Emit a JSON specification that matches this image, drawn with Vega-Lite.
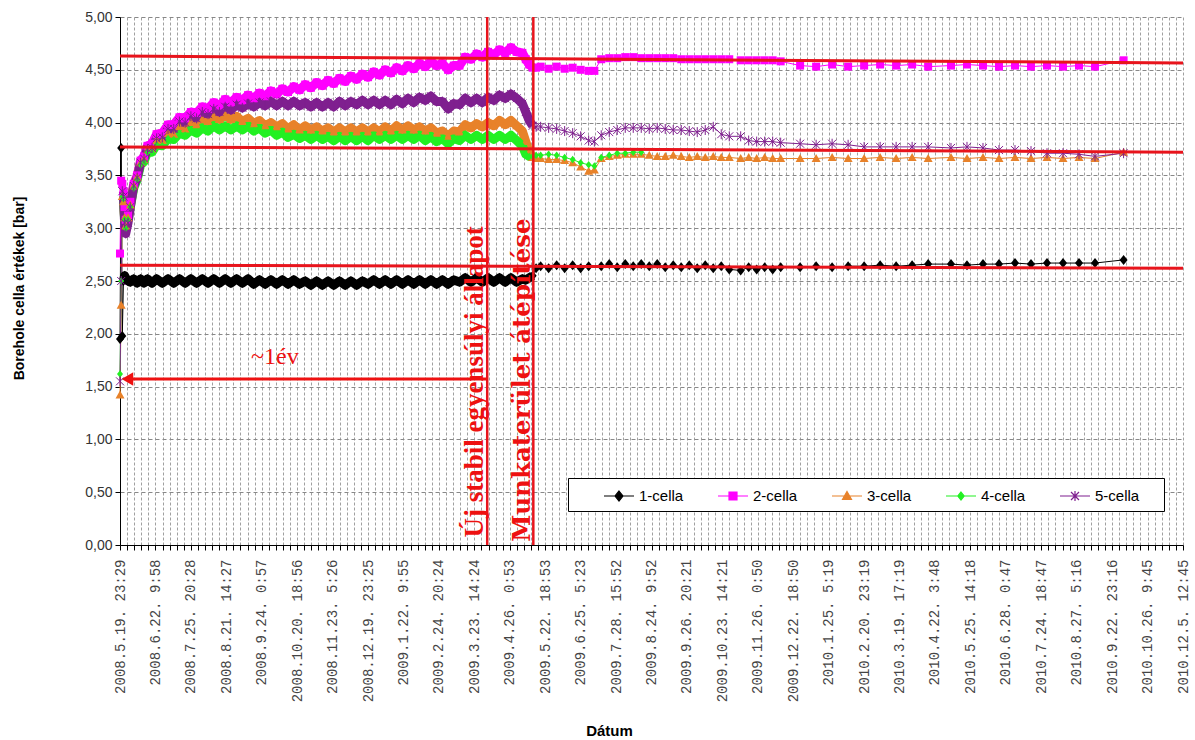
{
  "$schema": "https://vega.github.io/schema/vega-lite/v6.json",
  "width": 1063,
  "height": 528,
  "autosize": "none",
  "padding": {"left": 120, "top": 17, "right": 12, "bottom": 195},
  "background": "#ffffff",
  "config": {
    "view": {"stroke": null},
    "font": "Liberation Sans",
    "legend": {
      "symbolSize": 400, "symbolStrokeWidth": 1.2, "symbolOpacity": 1,
      "symbolOffset": 33, "labelOffset": 9, "columnPadding": 5, "padding": 7,
      "strokeColor": "#000", "fillColor": "#ffffff",
      "labelFont": "Liberation Sans", "labelFontSize": 15, "labelColor": "#000"
    }
  },
  "datasets": {
    "cells": [
      {"t":"2008-05-19T23:29:00Z","1-cella":1.95,"2-cella":2.76,"3-cella":1.42,"4-cella":1.62,"5-cella":1.55},
      {"t":"2008-05-21","1-cella":3.76,"2-cella":3.45,"3-cella":2.27,"4-cella":2.50,"5-cella":2.50},
      {"t":"2008-05-22","1-cella":1.98,"2-cella":3.42,"3-cella":3.30,"4-cella":3.30,"5-cella":3.35},
      {"t":"2008-05-23","1-cella":2.50,"2-cella":3.35,"3-cella":3.25,"4-cella":3.28,"5-cella":3.30},
      {"t":"2008-05-24","1-cella":2.55,"2-cella":3.20,"3-cella":3.10,"4-cella":3.08,"5-cella":3.05},
      {"t":"2008-05-25","1-cella":2.53,"2-cella":3.08,"3-cella":3.02,"4-cella":3.00,"5-cella":2.95},
      {"t":"2008-05-27","1-cella":2.50,"2-cella":3.12,"3-cella":3.10,"4-cella":3.08,"5-cella":3.05},
      {"t":"2008-05-29","1-cella":2.49,"2-cella":3.25,"3-cella":3.22,"4-cella":3.20,"5-cella":3.20},
      {"t":"2008-06-01","1-cella":2.52,"2-cella":3.42,"3-cella":3.40,"4-cella":3.38,"5-cella":3.40},
      {"t":"2008-06-04","1-cella":2.48,"2-cella":3.50,"3-cella":3.48,"4-cella":3.46,"5-cella":3.48},
      {"t":"2008-06-07","1-cella":2.52,"2-cella":3.64,"3-cella":3.62,"4-cella":3.60,"5-cella":3.62},
      {"t":"2008-06-10","1-cella":2.48,"2-cella":3.68,"3-cella":3.65,"4-cella":3.63,"5-cella":3.66},
      {"t":"2008-06-13","1-cella":2.52,"2-cella":3.78,"3-cella":3.74,"4-cella":3.72,"5-cella":3.75},
      {"t":"2008-06-17","1-cella":2.48,"2-cella":3.80,"3-cella":3.75,"4-cella":3.72,"5-cella":3.76},
      {"t":"2008-06-21","1-cella":2.52,"2-cella":3.89,"3-cella":3.83,"4-cella":3.79,"5-cella":3.85},
      {"t":"2008-06-26","1-cella":2.48,"2-cella":3.90,"3-cella":3.83,"4-cella":3.78,"5-cella":3.86},
      {"t":"2008-07-01","1-cella":2.52,"2-cella":3.98,"3-cella":3.90,"4-cella":3.85,"5-cella":3.94},
      {"t":"2008-07-06","1-cella":2.48,"2-cella":3.98,"3-cella":3.89,"4-cella":3.84,"5-cella":3.94},
      {"t":"2008-07-11","1-cella":2.52,"2-cella":4.05,"3-cella":3.96,"4-cella":3.90,"5-cella":4.01},
      {"t":"2008-07-16","1-cella":2.48,"2-cella":4.04,"3-cella":3.94,"4-cella":3.88,"5-cella":4.00},
      {"t":"2008-07-21","1-cella":2.52,"2-cella":4.10,"3-cella":4.00,"4-cella":3.93,"5-cella":4.06},
      {"t":"2008-07-26","1-cella":2.48,"2-cella":4.09,"3-cella":3.98,"4-cella":3.90,"5-cella":4.04},
      {"t":"2008-07-31","1-cella":2.52,"2-cella":4.15,"3-cella":4.03,"4-cella":3.95,"5-cella":4.10},
      {"t":"2008-08-05","1-cella":2.48,"2-cella":4.13,"3-cella":4.01,"4-cella":3.92,"5-cella":4.08},
      {"t":"2008-08-10","1-cella":2.52,"2-cella":4.19,"3-cella":4.06,"4-cella":3.97,"5-cella":4.13},
      {"t":"2008-08-15","1-cella":2.48,"2-cella":4.16,"3-cella":4.03,"4-cella":3.93,"5-cella":4.10},
      {"t":"2008-08-20","1-cella":2.52,"2-cella":4.22,"3-cella":4.07,"4-cella":3.97,"5-cella":4.15},
      {"t":"2008-08-25","1-cella":2.48,"2-cella":4.19,"3-cella":4.03,"4-cella":3.93,"5-cella":4.12},
      {"t":"2008-08-30","1-cella":2.52,"2-cella":4.24,"3-cella":4.06,"4-cella":3.97,"5-cella":4.17},
      {"t":"2008-09-04","1-cella":2.48,"2-cella":4.21,"3-cella":4.01,"4-cella":3.93,"5-cella":4.14},
      {"t":"2008-09-09","1-cella":2.52,"2-cella":4.26,"3-cella":4.04,"4-cella":3.97,"5-cella":4.18},
      {"t":"2008-09-14","1-cella":2.47,"2-cella":4.23,"3-cella":3.99,"4-cella":3.92,"5-cella":4.15},
      {"t":"2008-09-19","1-cella":2.51,"2-cella":4.28,"3-cella":4.02,"4-cella":3.95,"5-cella":4.19},
      {"t":"2008-09-24","1-cella":2.47,"2-cella":4.25,"3-cella":3.97,"4-cella":3.90,"5-cella":4.16},
      {"t":"2008-09-29","1-cella":2.51,"2-cella":4.30,"3-cella":4.00,"4-cella":3.93,"5-cella":4.20},
      {"t":"2008-10-04","1-cella":2.47,"2-cella":4.27,"3-cella":3.96,"4-cella":3.88,"5-cella":4.16},
      {"t":"2008-10-09","1-cella":2.51,"2-cella":4.32,"3-cella":3.99,"4-cella":3.91,"5-cella":4.20},
      {"t":"2008-10-14","1-cella":2.47,"2-cella":4.29,"3-cella":3.94,"4-cella":3.86,"5-cella":4.16},
      {"t":"2008-10-19","1-cella":2.51,"2-cella":4.34,"3-cella":3.98,"4-cella":3.89,"5-cella":4.20},
      {"t":"2008-10-24","1-cella":2.47,"2-cella":4.31,"3-cella":3.93,"4-cella":3.85,"5-cella":4.16},
      {"t":"2008-10-29","1-cella":2.50,"2-cella":4.36,"3-cella":3.97,"4-cella":3.88,"5-cella":4.19},
      {"t":"2008-11-03","1-cella":2.46,"2-cella":4.33,"3-cella":3.93,"4-cella":3.84,"5-cella":4.15},
      {"t":"2008-11-08","1-cella":2.50,"2-cella":4.38,"3-cella":3.96,"4-cella":3.88,"5-cella":4.19},
      {"t":"2008-11-13","1-cella":2.46,"2-cella":4.35,"3-cella":3.92,"4-cella":3.84,"5-cella":4.15},
      {"t":"2008-11-18","1-cella":2.50,"2-cella":4.40,"3-cella":3.95,"4-cella":3.87,"5-cella":4.19},
      {"t":"2008-11-23","1-cella":2.46,"2-cella":4.37,"3-cella":3.91,"4-cella":3.83,"5-cella":4.15},
      {"t":"2008-11-28","1-cella":2.50,"2-cella":4.42,"3-cella":3.95,"4-cella":3.87,"5-cella":4.20},
      {"t":"2008-12-03","1-cella":2.46,"2-cella":4.39,"3-cella":3.91,"4-cella":3.83,"5-cella":4.16},
      {"t":"2008-12-08","1-cella":2.50,"2-cella":4.44,"3-cella":3.95,"4-cella":3.87,"5-cella":4.20},
      {"t":"2008-12-13","1-cella":2.46,"2-cella":4.41,"3-cella":3.91,"4-cella":3.83,"5-cella":4.17},
      {"t":"2008-12-18","1-cella":2.50,"2-cella":4.46,"3-cella":3.95,"4-cella":3.87,"5-cella":4.21},
      {"t":"2008-12-23","1-cella":2.47,"2-cella":4.43,"3-cella":3.91,"4-cella":3.83,"5-cella":4.17},
      {"t":"2008-12-28","1-cella":2.51,"2-cella":4.48,"3-cella":3.95,"4-cella":3.88,"5-cella":4.21},
      {"t":"2009-01-02","1-cella":2.47,"2-cella":4.45,"3-cella":3.91,"4-cella":3.84,"5-cella":4.17},
      {"t":"2009-01-07","1-cella":2.51,"2-cella":4.50,"3-cella":3.96,"4-cella":3.88,"5-cella":4.21},
      {"t":"2009-01-12","1-cella":2.47,"2-cella":4.47,"3-cella":3.92,"4-cella":3.84,"5-cella":4.17},
      {"t":"2009-01-17","1-cella":2.51,"2-cella":4.52,"3-cella":3.97,"4-cella":3.88,"5-cella":4.22},
      {"t":"2009-01-22","1-cella":2.47,"2-cella":4.49,"3-cella":3.93,"4-cella":3.84,"5-cella":4.18},
      {"t":"2009-01-27","1-cella":2.51,"2-cella":4.54,"3-cella":3.97,"4-cella":3.88,"5-cella":4.23},
      {"t":"2009-02-01","1-cella":2.47,"2-cella":4.51,"3-cella":3.93,"4-cella":3.84,"5-cella":4.19},
      {"t":"2009-02-06","1-cella":2.51,"2-cella":4.56,"3-cella":3.96,"4-cella":3.88,"5-cella":4.24},
      {"t":"2009-02-11","1-cella":2.47,"2-cella":4.53,"3-cella":3.92,"4-cella":3.83,"5-cella":4.21},
      {"t":"2009-02-16","1-cella":2.51,"2-cella":4.58,"3-cella":3.95,"4-cella":3.87,"5-cella":4.25},
      {"t":"2009-02-21","1-cella":2.47,"2-cella":4.54,"3-cella":3.90,"4-cella":3.82,"5-cella":4.20},
      {"t":"2009-02-26","1-cella":2.51,"2-cella":4.56,"3-cella":3.92,"4-cella":3.85,"5-cella":4.20},
      {"t":"2009-03-03","1-cella":2.47,"2-cella":4.50,"3-cella":3.87,"4-cella":3.80,"5-cella":4.13},
      {"t":"2009-03-08","1-cella":2.51,"2-cella":4.54,"3-cella":3.92,"4-cella":3.85,"5-cella":4.18},
      {"t":"2009-03-13","1-cella":2.49,"2-cella":4.54,"3-cella":3.91,"4-cella":3.83,"5-cella":4.17},
      {"t":"2009-03-18","1-cella":2.53,"2-cella":4.62,"3-cella":3.98,"4-cella":3.88,"5-cella":4.23},
      {"t":"2009-03-23","1-cella":2.49,"2-cella":4.60,"3-cella":3.95,"4-cella":3.84,"5-cella":4.19},
      {"t":"2009-03-28","1-cella":2.53,"2-cella":4.65,"3-cella":3.99,"4-cella":3.88,"5-cella":4.23},
      {"t":"2009-04-02","1-cella":2.49,"2-cella":4.62,"3-cella":3.96,"4-cella":3.84,"5-cella":4.19},
      {"t":"2009-04-07","1-cella":2.53,"2-cella":4.67,"3-cella":4.00,"4-cella":3.88,"5-cella":4.24},
      {"t":"2009-04-12","1-cella":2.49,"2-cella":4.64,"3-cella":3.97,"4-cella":3.84,"5-cella":4.21},
      {"t":"2009-04-17","1-cella":2.53,"2-cella":4.69,"3-cella":4.02,"4-cella":3.88,"5-cella":4.26},
      {"t":"2009-04-22","1-cella":2.49,"2-cella":4.66,"3-cella":3.98,"4-cella":3.84,"5-cella":4.23},
      {"t":"2009-04-27","1-cella":2.53,"2-cella":4.71,"3-cella":4.02,"4-cella":3.88,"5-cella":4.27},
      {"t":"2009-05-02","1-cella":2.49,"2-cella":4.67,"3-cella":3.97,"4-cella":3.83,"5-cella":4.23},
      {"t":"2009-05-07","1-cella":2.52,"2-cella":4.66,"3-cella":3.92,"4-cella":3.78,"5-cella":4.18},
      {"t":"2009-05-10","1-cella":2.51,"2-cella":4.60,"3-cella":3.82,"4-cella":3.70,"5-cella":4.10},
      {"t":"2009-05-13","1-cella":2.53,"2-cella":4.55,"3-cella":3.72,"4-cella":3.68,"5-cella":4.02},
      {"t":"2009-05-16","1-cella":2.55,"2-cella":4.52,"3-cella":3.67,"4-cella":3.68,"5-cella":3.97},
      {"t":"2009-05-19","1-cella":2.62,"2-cella":4.52,"3-cella":3.66,"4-cella":3.69,"5-cella":3.96},
      {"t":"2009-05-23","1-cella":2.64,"2-cella":4.53,"3-cella":3.66,"4-cella":3.69,"5-cella":3.96},
      {"t":"2009-05-30","1-cella":2.62,"2-cella":4.51,"3-cella":3.65,"4-cella":3.70,"5-cella":3.95},
      {"t":"2009-06-06","1-cella":2.65,"2-cella":4.53,"3-cella":3.65,"4-cella":3.69,"5-cella":3.94},
      {"t":"2009-06-13","1-cella":2.62,"2-cella":4.51,"3-cella":3.64,"4-cella":3.67,"5-cella":3.92},
      {"t":"2009-06-20","1-cella":2.65,"2-cella":4.52,"3-cella":3.62,"4-cella":3.65,"5-cella":3.90},
      {"t":"2009-06-27","1-cella":2.62,"2-cella":4.50,"3-cella":3.58,"4-cella":3.62,"5-cella":3.87},
      {"t":"2009-07-04","1-cella":2.64,"2-cella":4.49,"3-cella":3.54,"4-cella":3.60,"5-cella":3.83},
      {"t":"2009-07-09","2-cella":4.49,"3-cella":3.55,"4-cella":3.59,"5-cella":3.82},
      {"t":"2009-07-15","1-cella":2.64,"2-cella":4.60,"3-cella":3.66,"4-cella":3.67,"5-cella":3.88},
      {"t":"2009-07-22","1-cella":2.66,"2-cella":4.61,"3-cella":3.68,"4-cella":3.69,"5-cella":3.91},
      {"t":"2009-07-29","1-cella":2.63,"2-cella":4.61,"3-cella":3.69,"4-cella":3.71,"5-cella":3.93},
      {"t":"2009-08-05","1-cella":2.66,"2-cella":4.62,"3-cella":3.70,"4-cella":3.71,"5-cella":3.95},
      {"t":"2009-08-12","1-cella":2.64,"2-cella":4.62,"3-cella":3.70,"4-cella":3.72,"5-cella":3.95},
      {"t":"2009-08-19","1-cella":2.66,"2-cella":4.61,"3-cella":3.70,"4-cella":3.72,"5-cella":3.95},
      {"t":"2009-08-26","1-cella":2.64,"2-cella":4.61,"3-cella":3.69,"5-cella":3.94},
      {"t":"2009-09-02","1-cella":2.66,"2-cella":4.61,"3-cella":3.68,"5-cella":3.95},
      {"t":"2009-09-09","1-cella":2.63,"2-cella":4.61,"3-cella":3.68,"5-cella":3.94},
      {"t":"2009-09-16","1-cella":2.65,"2-cella":4.61,"3-cella":3.69,"5-cella":3.93},
      {"t":"2009-09-23","1-cella":2.63,"2-cella":4.60,"3-cella":3.68,"5-cella":3.93},
      {"t":"2009-09-30","1-cella":2.65,"2-cella":4.60,"3-cella":3.67,"5-cella":3.92},
      {"t":"2009-10-07","1-cella":2.62,"2-cella":4.60,"3-cella":3.68,"5-cella":3.91},
      {"t":"2009-10-14","1-cella":2.65,"2-cella":4.60,"3-cella":3.67,"5-cella":3.93},
      {"t":"2009-10-21","1-cella":2.62,"2-cella":4.60,"3-cella":3.68,"5-cella":3.96},
      {"t":"2009-10-28","1-cella":2.64,"2-cella":4.60,"3-cella":3.67,"5-cella":3.89},
      {"t":"2009-11-04","1-cella":2.61,"2-cella":4.60,"3-cella":3.67,"5-cella":3.87},
      {"t":"2009-11-14","1-cella":2.60,"2-cella":4.59,"3-cella":3.66,"5-cella":3.87},
      {"t":"2009-11-21","1-cella":2.63,"2-cella":4.59,"3-cella":3.67,"5-cella":3.83},
      {"t":"2009-11-28","1-cella":2.61,"2-cella":4.59,"3-cella":3.66,"5-cella":3.82},
      {"t":"2009-12-05","1-cella":2.63,"2-cella":4.59,"3-cella":3.67,"5-cella":3.82},
      {"t":"2009-12-12","1-cella":2.61,"2-cella":4.59,"3-cella":3.66,"5-cella":3.82},
      {"t":"2009-12-19","1-cella":2.63,"2-cella":4.58,"3-cella":3.66,"5-cella":3.81},
      {"t":"2010-01-05","1-cella":2.63,"2-cella":4.54,"3-cella":3.66,"5-cella":3.80},
      {"t":"2010-01-19","1-cella":2.64,"2-cella":4.53,"3-cella":3.66,"5-cella":3.79},
      {"t":"2010-02-02","1-cella":2.63,"2-cella":4.55,"3-cella":3.67,"5-cella":3.80},
      {"t":"2010-02-16","1-cella":2.64,"2-cella":4.53,"3-cella":3.66,"5-cella":3.79},
      {"t":"2010-03-02","1-cella":2.64,"2-cella":4.54,"3-cella":3.66,"5-cella":3.77},
      {"t":"2010-03-16","1-cella":2.65,"2-cella":4.55,"3-cella":3.67,"5-cella":3.77},
      {"t":"2010-03-30","1-cella":2.64,"2-cella":4.54,"3-cella":3.66,"5-cella":3.77},
      {"t":"2010-04-13","1-cella":2.65,"2-cella":4.55,"3-cella":3.67,"5-cella":3.77},
      {"t":"2010-04-27","1-cella":2.66,"2-cella":4.53,"3-cella":3.66,"5-cella":3.77},
      {"t":"2010-05-17","1-cella":2.66,"2-cella":4.54,"3-cella":3.67,"5-cella":3.76},
      {"t":"2010-05-31","1-cella":2.65,"2-cella":4.55,"3-cella":3.66,"5-cella":3.77},
      {"t":"2010-06-14","1-cella":2.66,"2-cella":4.54,"3-cella":3.67,"5-cella":3.76},
      {"t":"2010-06-28","1-cella":2.66,"2-cella":4.53,"3-cella":3.66,"5-cella":3.74},
      {"t":"2010-07-12","1-cella":2.67,"2-cella":4.54,"3-cella":3.67,"5-cella":3.74},
      {"t":"2010-07-26","1-cella":2.66,"2-cella":4.53,"3-cella":3.66,"5-cella":3.73},
      {"t":"2010-08-09","1-cella":2.67,"2-cella":4.54,"3-cella":3.67,"5-cella":3.71},
      {"t":"2010-08-23","1-cella":2.67,"2-cella":4.53,"3-cella":3.66,"5-cella":3.71},
      {"t":"2010-09-06","1-cella":2.67,"2-cella":4.54,"3-cella":3.67,"5-cella":3.70},
      {"t":"2010-09-20","1-cella":2.67,"2-cella":4.53,"3-cella":3.66,"5-cella":3.68},
      {"t":"2010-10-15","1-cella":2.70,"2-cella":4.59,"3-cella":3.72,"5-cella":3.71}
    ],
    "reflines": [
      {"t1":"2008-05-19T23:29:00Z","v1":4.63,"t2":"2010-12-05T23:29:00Z","v2":4.565},
      {"t1":"2008-05-19T23:29:00Z","v1":3.77,"t2":"2010-12-05T23:29:00Z","v2":3.72},
      {"t1":"2008-05-19T23:29:00Z","v1":2.65,"t2":"2010-12-05T23:29:00Z","v2":2.62}
    ],
    "vlines": [
      {"t":"2009-04-06T06:00:00Z"},
      {"t":"2009-05-16T14:00:00Z"}
    ],
    "arrow": [
      {"t1":"2008-05-31","t2":"2009-04-06T06:00:00Z","v":1.572}
    ],
    "arrowhead": [
      {"t":"2008-05-26T12:00:00Z","v":1.572}
    ],
    "vtext1": [
      {"t":"2009-04-02T12:00:00Z","v":0.07,"txt":"Új stabil egyensúlyi állapot"}
    ],
    "vtext2": [
      {"t":"2009-05-13T16:00:00Z","v":0.03,"txt":"Munkaterület átépítése"}
    ],
    "htexts": [
      {"t":"2008-10-02T12:00:00Z","v":1.78,"txt":"~1év"}
    ]
  },
  "layer": [
    {
      "data": {"name": "cells"},
      "transform": [{"fold": ["1-cella","2-cella","3-cella","4-cella","5-cella"], "as": ["cella","v"]}],
      "mark": {"type": "line", "strokeWidth": 1},
      "encoding": {
        "x": {
          "field": "t", "type": "temporal",
          "scale": {"domain": [{"year":2008,"month":5,"date":19,"hours":23,"minutes":29,"utc":true},{"year":2010,"month":12,"date":5,"hours":23,"minutes":29,"utc":true}], "nice": false},
          "axis": {
            "title": "Dátum",
            "titleFont": "Liberation Sans", "titleFontSize": 15, "titleFontWeight": "bold", "titleColor": "#000",
            "titleX": 489, "titleY": 185, "titleAlign": "center", "titleBaseline": "middle", "titleAngle": 0,
            "values": {"expr": "sequence(1211239740000, 1291591741000, 535680000)"},
            "tickCount": 400,
            "labelExpr": "(round((datum.value - 1211239740000) / 535680000) % 5 == 0) ? ['2008.5.19. 23:29','2008.6.22. 9:58','2008.7.25. 20:28','2008.8.21. 14:27','2008.9.24. 0:57','2008.10.20. 18:56','2008.11.23. 5:26','2008.12.19. 23:25','2009.1.22. 9:55','2009.2.24. 20:24','2009.3.23. 14:24','2009.4.26. 0:53','2009.5.22. 18:53','2009.6.25. 5:23','2009.7.28. 15:52','2009.8.24. 9:52','2009.9.26. 20:21','2009.10.23. 14:21','2009.11.26. 0:50','2009.12.22. 18:50','2010.1.25. 5:19','2010.2.20. 23:19','2010.3.19. 17:19','2010.4.22. 3:48','2010.5.25. 14:18','2010.6.28. 0:47','2010.7.24. 18:47','2010.8.27. 5:16','2010.9.22. 23:16','2010.10.26. 9:45','2010.12.5. 12:45'][round((datum.value - 1211239740000) / 535680000) / 5] : ''",
            "labelAngle": 270, "labelFont": "Liberation Mono", "labelFontSize": 14, "labelColor": "#444",
            "labelPadding": 9, "labelOverlap": false, "labelFlush": false, "labelBound": false,
            "tickSize": 5, "tickColor": "#000", "domainColor": "#000", "domainWidth": 1,
            "grid": true, "gridColor": "#a0a0a0", "gridDash": [3, 2], "gridWidth": 1
          }
        },
        "y": {
          "field": "v", "type": "quantitative",
          "scale": {"domain": [0, 5], "nice": false, "zero": true},
          "axis": {
            "title": "Borehole cella értékek [bar]",
            "titleFont": "Liberation Sans", "titleFontSize": 14, "titleFontWeight": "bold", "titleColor": "#000",
            "titleX": -101, "titleY": 271, "titleAngle": 270, "titleAlign": "center", "titleBaseline": "middle",
            "values": [0, 0.5, 1, 1.5, 2, 2.5, 3, 3.5, 4, 4.5, 5],
            "labelExpr": "replace(format(datum.value, '.2f'), '.', ',')",
            "labelFont": "Liberation Sans", "labelFontSize": 14, "labelColor": "#333", "labelPadding": 3,
            "tickSize": 5, "tickColor": "#000", "domainColor": "#000",
            "grid": true, "gridColor": "#888", "gridDash": [4, 3], "gridWidth": 1
          }
        },
        "color": {
          "field": "cella", "type": "nominal",
          "scale": {"domain": ["1-cella","2-cella","3-cella","4-cella","5-cella"], "range": ["#000000","#ff00ff","#e8822a","#22f022","#7f1f8f"]}
        }
      }
    },
    {
      "data": {"name": "cells"},
      "transform": [
        {"fold": ["1-cella","2-cella","3-cella","4-cella","5-cella"], "as": ["cella","v"]},
        {"filter": {"field": "t", "range": [{"year":2008,"month":5,"date":23,"utc":true}, {"year":2009,"month":5,"date":16,"utc":true}]}}
      ],
      "mark": {"type": "line", "strokeWidth": 9, "strokeJoin": "round"},
      "encoding": {
        "x": {"field": "t", "type": "temporal"},
        "y": {"field": "v", "type": "quantitative"},
        "color": {"field": "cella", "type": "nominal"}
      }
    },
    {
      "data": {"name": "cells"},
      "transform": [{"fold": ["1-cella"], "as": ["cella","v"]}],
      "mark": {"type": "point", "filled": true, "size": 100, "strokeWidth": 1, "opacity": 1, "color": "#000000", "shape": "M0,-1L0.8,0L0,1L-0.8,0Z"},
      "encoding": {"x": {"field": "t", "type": "temporal"}, "y": {"field": "v", "type": "quantitative"}}
    },
    {
      "data": {"name": "cells"},
      "transform": [{"fold": ["2-cella"], "as": ["cella","v"]}],
      "mark": {"type": "point", "filled": true, "size": 100, "strokeWidth": 1, "opacity": 1, "color": "#ff00ff", "shape": "M-0.8,-0.8L0.8,-0.8L0.8,0.8L-0.8,0.8Z"},
      "encoding": {"x": {"field": "t", "type": "temporal"}, "y": {"field": "v", "type": "quantitative"}}
    },
    {
      "data": {"name": "cells"},
      "transform": [{"fold": ["3-cella"], "as": ["cella","v"]}],
      "mark": {"type": "point", "filled": true, "size": 100, "strokeWidth": 1, "opacity": 1, "color": "#e8822a", "shape": "M0,-0.9L0.9,0.7L-0.9,0.7Z"},
      "encoding": {"x": {"field": "t", "type": "temporal"}, "y": {"field": "v", "type": "quantitative"}}
    },
    {
      "data": {"name": "cells"},
      "transform": [{"fold": ["4-cella"], "as": ["cella","v"]}],
      "mark": {"type": "point", "filled": true, "size": 100, "strokeWidth": 1, "opacity": 1, "color": "#22f022", "shape": "M0,-0.75L0.6,0L0,0.75L-0.6,0Z"},
      "encoding": {"x": {"field": "t", "type": "temporal"}, "y": {"field": "v", "type": "quantitative"}}
    },
    {
      "data": {"name": "cells"},
      "transform": [{"fold": ["5-cella"], "as": ["cella","v"]}],
      "mark": {"type": "point", "filled": false, "size": 100, "strokeWidth": 1, "opacity": 1, "color": "#7f1f8f", "shape": "M-0.8,-0.8L0.8,0.8M-0.8,0.8L0.8,-0.8M0,-1L0,1"},
      "encoding": {"x": {"field": "t", "type": "temporal"}, "y": {"field": "v", "type": "quantitative"}}
    },
    {
      "data": {"name": "cells"},
      "transform": [{"fold": ["1-cella","2-cella","3-cella","4-cella","5-cella"], "as": ["cella","v"]}],
      "mark": {"type": "point", "filled": true, "size": 400, "strokeWidth": 1.2, "opacity": 0},
      "encoding": {
        "x": {"field": "t", "type": "temporal"},
        "y": {"field": "v", "type": "quantitative"},
        "shape": {
          "field": "cella", "type": "nominal",
          "scale": {"domain": ["1-cella","2-cella","3-cella","4-cella","5-cella"], "range": [
            "M-1.5,0L1.5,0M0,-0.5L0.4,0L0,0.5L-0.4,0Z",
            "M-1.5,0L1.5,0M-0.4,-0.4L0.4,-0.4L0.4,0.4L-0.4,0.4Z",
            "M-1.5,0L1.5,0M0,-0.45L0.45,0.35L-0.45,0.35Z",
            "M-1.5,0L1.5,0M0,-0.4L0.32,0L0,0.4L-0.32,0Z",
            "M-1.5,0L1.5,0M-0.4,-0.4L0.4,0.4M-0.4,0.4L0.4,-0.4M0,-0.5L0,0.5"
          ]},
          "legend": {
            "orient": "none", "legendX": 448, "legendY": 461,
            "direction": "horizontal", "columns": 5,
            "title": " ", "titleOrient": "right", "titlePadding": 18, "titleFontSize": 15
          }
        },
        "fill": {
          "field": "cella", "type": "nominal",
          "scale": {"domain": ["1-cella","2-cella","3-cella","4-cella","5-cella"], "range": ["#000000","#ff00ff","#e8822a","#22f022","#7f1f8f"]}
        },
        "stroke": {
          "field": "cella", "type": "nominal",
          "scale": {"domain": ["1-cella","2-cella","3-cella","4-cella","5-cella"], "range": ["#000000","#ff00ff","#e8822a","#22f022","#7f1f8f"]}
        }
      }
    },
    {
      "data": {"name": "reflines"},
      "mark": {"type": "rule", "color": "#e8141c", "strokeWidth": 3},
      "encoding": {
        "x": {"field": "t1", "type": "temporal"},
        "x2": {"field": "t2"},
        "y": {"field": "v1", "type": "quantitative"},
        "y2": {"field": "v2"}
      }
    },
    {
      "data": {"name": "vlines"},
      "mark": {"type": "rule", "color": "#e8141c", "strokeWidth": 2.5},
      "encoding": {
        "x": {"field": "t", "type": "temporal"}
      }
    },
    {
      "data": {"name": "arrow"},
      "mark": {"type": "rule", "color": "#ee1111", "strokeWidth": 3},
      "encoding": {
        "x": {"field": "t1", "type": "temporal"},
        "x2": {"field": "t2"},
        "y": {"field": "v", "type": "quantitative"}
      }
    },
    {
      "data": {"name": "arrowhead"},
      "mark": {"type": "point", "shape": "triangle-left", "filled": true, "color": "#ee1111", "size": 180, "opacity": 1},
      "encoding": {
        "x": {"field": "t", "type": "temporal"},
        "y": {"field": "v", "type": "quantitative"}
      }
    },
    {
      "data": {"name": "vtext1"},
      "mark": {"type": "text", "angle": 270, "align": "left", "baseline": "alphabetic", "font": "Liberation Serif", "fontWeight": "bold", "fontSize": 27, "color": "#ee1111"},
      "encoding": {
        "x": {"field": "t", "type": "temporal"},
        "y": {"field": "v", "type": "quantitative"},
        "text": {"field": "txt"}
      }
    },
    {
      "data": {"name": "vtext2"},
      "mark": {"type": "text", "angle": 270, "align": "left", "baseline": "alphabetic", "font": "DejaVu Serif", "fontWeight": "bold", "fontSize": 24.5, "color": "#ee1111"},
      "encoding": {
        "x": {"field": "t", "type": "temporal"},
        "y": {"field": "v", "type": "quantitative"},
        "text": {"field": "txt"}
      }
    },
    {
      "data": {"name": "htexts"},
      "mark": {"type": "text", "align": "center", "baseline": "middle", "font": "Liberation Serif", "fontSize": 24, "color": "#ee1111"},
      "encoding": {
        "x": {"field": "t", "type": "temporal"},
        "y": {"field": "v", "type": "quantitative"},
        "text": {"field": "txt"}
      }
    }
  ]
}
